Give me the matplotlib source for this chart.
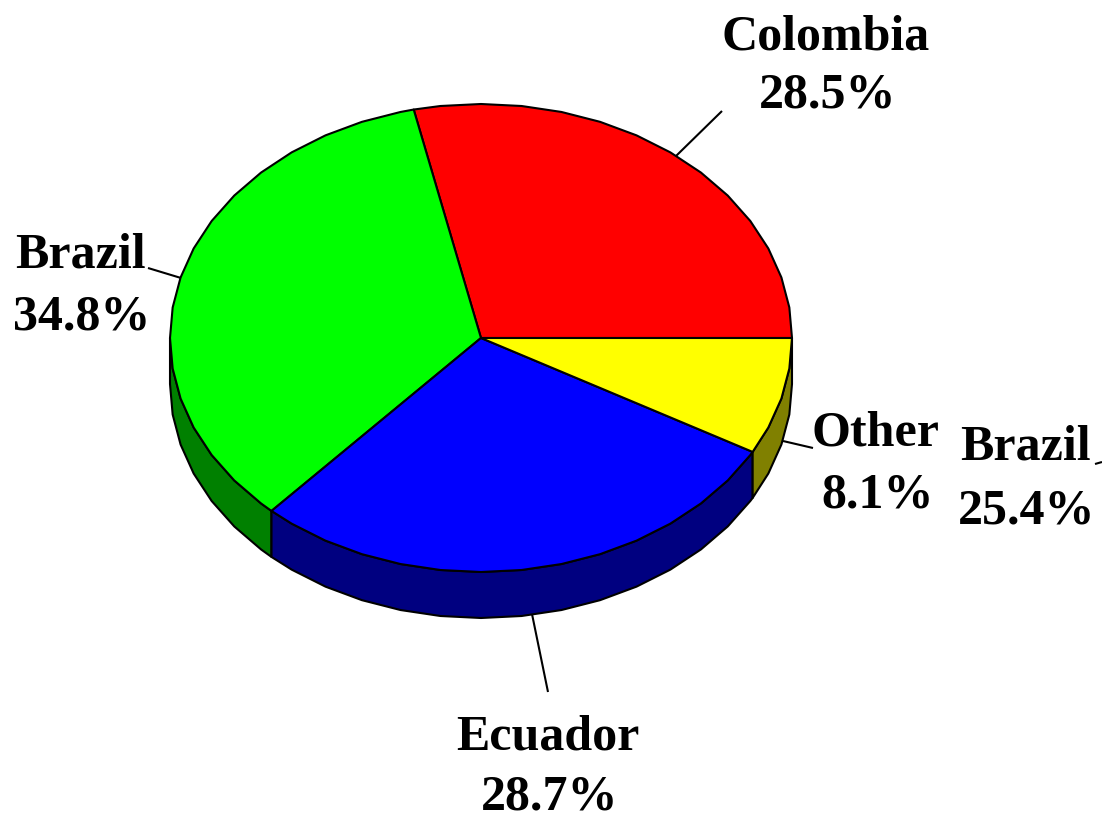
import matplotlib
matplotlib.use('Agg')
import matplotlib.pyplot as plt
import numpy as np

# slices, counter clockwise from 3 o'clock
names = ['Colombia', 'Brazil', 'Ecuador', 'Other']
shares = [28.5, 34.8, 28.7, 8.1]
top_colors = ['#ff0000', '#00ff00', '#0000ff', '#ffff00']
side_colors = ['#800000', '#008000', '#000080', '#808000']

# text: label, share, x centre, baseline of name, baseline of share
labels = [('Colombia', 28.5, 826, 49, 108), ('Brazil', 34.8, 80, 267, 330),
          ('Other', 8.1, 876, 446, 507), ('Brazil', 25.4, 1025, 460, 523),
          ('Ecuador', 28.7, 548, 750, 810)]
# leader lines (x0, x1), (y0, y1)
leaders = [((722, 676), (111, 156)), ((148, 181), (268, 278)),
           ((783, 813), (441, 448)), ((532, 548), (614, 692)),
           ((1095, 1102), (464, 462))]

cx, cy = 481, 338
rx, ry = 311, 234
depth = 46

plt.rcParams['font.family'] = ['Liberation Serif', 'DejaVu Serif']
fig = plt.figure(figsize=(11.02, 8.15), dpi=100)
ax = fig.add_axes([0, 0, 1, 1])
ax.set_xlim(0, 1102)
ax.set_ylim(815, 0)
ax.axis('off')


def arc(a0, a1):
    # coarse polygon like the original, corners every 7.5 degrees
    grid = np.arange(0, 360.1, 7.5)
    inner = grid[(grid > a0) & (grid < a1)]
    t = np.radians(np.r_[a0, inner, a1])
    return cx + rx * np.cos(t), cy - ry * np.sin(t)


edges = np.concatenate([[0], np.cumsum(shares)]) / sum(shares) * 360

# walls of the lower half
for i in range(len(shares)):
    a0, a1 = max(edges[i], 180), edges[i + 1]
    if a1 <= a0:
        continue
    x, y = arc(a0, a1)
    ax.fill(np.r_[x, x[::-1]], np.r_[y, y[::-1] + depth], fc=side_colors[i],
            ec='black', lw=1.5, joinstyle='round')

# top face
for i in range(len(shares)):
    x, y = arc(edges[i], edges[i + 1])
    ax.fill(np.r_[cx, x], np.r_[cy, y], fc=top_colors[i], ec='black', lw=1.5,
            joinstyle='round')

for xs, ys in leaders:
    ax.plot(xs, ys, color='black', lw=1.5, solid_capstyle='butt')

for name, share, x, y0, y1 in labels:
    ax.text(x, y0, name, ha='center', va='baseline', fontsize=36, fontweight='bold')
    ax.text(x + 2, y1, '%.1f%%' % share, ha='center', va='baseline', fontsize=36, fontweight='bold')

fig.savefig('out.png', dpi=100)
